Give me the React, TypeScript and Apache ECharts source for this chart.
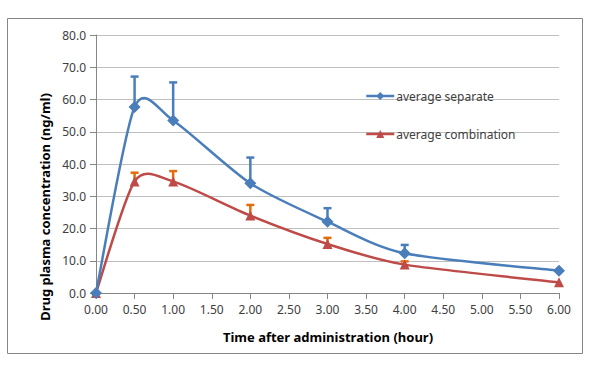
import React, { useEffect, useRef } from "react";
import * as echarts from "echarts";

const times = [0, 0.5, 1, 2, 3, 4, 6];
const separateMean = [0, 57.7, 53.5, 34.0, 22.1, 12.3, 6.9];
const separateUpper = [0, 67.1, 65.3, 42.0, 26.3, 14.9, 6.9];
const combinationMean = [0, 34.6, 34.6, 24.0, 15.2, 8.8, 3.3];
const combinationUpper = [0, 37.3, 37.8, 27.3, 17.1, 9.8, 3.3];
const seriesNames = ["average separate", "average combination"];
const xAxisTitle = "Time after administration (hour)";
const yAxisTitle = "Drug plasma concentration (ng/ml)";

const BLUE = "#4a7ebb";
const RED = "#be4b48";
const ORANGE = "#e46c0a";
const FONT = "'Noto Sans', sans-serif";
const TENSION = 0.13;

function errorSeries(mean: number[], upper: number[], color: string) {
  const data = times.map((t, i) => [t, mean[i], upper[i]]);
  return {
    type: "custom",
    silent: true,
    z: 1,
    data,
    encode: { x: 0, y: [1, 2] },
    renderItem: (params: any, api: any) => {
      const x = api.value(0);
      const y = api.value(1);
      const u = api.value(2);
      if (u - y < 0.05) return null;
      const p0 = api.coord([x, y]);
      const p1 = api.coord([x, u]);
      return {
        type: "group",
        children: [
          {
            type: "line",
            shape: { x1: p0[0], y1: p0[1], x2: p1[0], y2: p1[1] },
            style: { stroke: color, lineWidth: 2.5 },
          },
          {
            type: "line",
            shape: { x1: p1[0] - 4, y1: p1[1], x2: p1[0] + 4, y2: p1[1] },
            style: { stroke: color, lineWidth: 2.5 },
          },
        ],
      };
    },
  };
}

// Excel-like smoothed curve (Catmull-Rom style Bezier through the data points)
function curveSeries(mean: number[], color: string, z: number) {
  const data = times.map((t, i) => [t, mean[i]]);
  return {
    type: "custom",
    silent: true,
    z,
    data,
    encode: { x: 0, y: 1 },
    clip: true,
    renderItem: (params: any, api: any) => {
      const i = params.dataIndex;
      const n = times.length;
      if (i >= n - 1) return null;
      const P = (k: number) => {
        const kk = Math.max(0, Math.min(n - 1, k));
        return api.coord([times[kk], mean[kk]]);
      };
      const p0 = P(i - 1);
      const p1 = P(i);
      const p2 = P(i + 1);
      const p3 = P(i + 2);
      return {
        type: "bezierCurve",
        shape: {
          x1: p1[0],
          y1: p1[1],
          cpx1: p1[0] + (p2[0] - p0[0]) * TENSION,
          cpy1: p1[1] + (p2[1] - p0[1]) * TENSION,
          cpx2: p2[0] - (p3[0] - p1[0]) * TENSION,
          cpy2: p2[1] - (p3[1] - p1[1]) * TENSION,
          x2: p2[0],
          y2: p2[1],
        },
        style: { stroke: color, lineWidth: 2.5, fill: "none" },
      };
    },
  };
}

export default function App() {
  const ref = useRef<HTMLDivElement>(null);
  useEffect(() => {
    const chart = echarts.init(ref.current!, null, { renderer: "svg" });
    chart.setOption({
      animation: false,
      backgroundColor: "#ffffff",
      grid: { left: 96, right: 34, top: 35, bottom: 75, containLabel: false },
      xAxis: {
        type: "value",
        min: 0,
        max: 6,
        interval: 0.5,
        axisLine: { lineStyle: { color: "#868686", width: 1 } },
        axisTick: { show: true, length: 6, lineStyle: { color: "#868686" } },
        splitLine: { show: false },
        axisLabel: {
          color: "#404040",
          fontSize: 12,
          fontFamily: FONT,
          margin: 10,
          formatter: (v: number) => v.toFixed(2),
        },
      },
      yAxis: {
        type: "value",
        min: 0,
        max: 80,
        interval: 10,
        axisLine: { show: true, lineStyle: { color: "#868686", width: 1 } },
        axisTick: { show: true, length: 6, lineStyle: { color: "#868686" } },
        splitLine: { show: true, lineStyle: { color: "#bfbfbf", width: 1 } },
        axisLabel: {
          color: "#404040",
          fontSize: 12,
          fontFamily: FONT,
          margin: 10,
          formatter: (v: number) => v.toFixed(1),
        },
      },
      legend: {
        orient: "vertical",
        left: 365,
        top: 90,
        padding: 0,
        itemGap: 26,
        itemWidth: 28,
        itemHeight: 10,
        textStyle: { color: "#404040", fontSize: 12, fontFamily: FONT, padding: [0, 0, 0, -3] },
        data: [
          { name: seriesNames[0], lineStyle: { opacity: 1, color: BLUE, width: 2.5 } },
          { name: seriesNames[1], lineStyle: { opacity: 1, color: RED, width: 2.5 } },
        ],
      },
      graphic: [
        {
          type: "rect",
          shape: { x: 7.5, y: 18.5, width: 575, height: 335 },
          style: { fill: "none", stroke: "#868686", lineWidth: 1 },
          silent: true,
          z: -10,
        },
        {
          type: "text",
          x: 45,
          y: 207,
          rotation: Math.PI / 2,
          style: {
            text: yAxisTitle,
            fill: "#000000",
            font: `bold 13px ${FONT}`,
            textAlign: "center",
            textVerticalAlign: "middle",
          },
        },
        {
          type: "text",
          x: 328,
          y: 337,
          style: {
            text: xAxisTitle,
            fill: "#000000",
            font: `bold 13px ${FONT}`,
            textAlign: "center",
            textVerticalAlign: "middle",
          },
        },
      ],
      series: [
        errorSeries(separateMean, separateUpper, BLUE),
        errorSeries(combinationMean, combinationUpper, ORANGE),
        curveSeries(combinationMean, RED, 2),
        curveSeries(separateMean, BLUE, 3),
        {
          name: seriesNames[0],
          type: "line",
          z: 5,
          data: times.map((t, i) => [t, separateMean[i]]),
          symbol: "diamond",
          symbolSize: 12,
          lineStyle: { color: BLUE, width: 2.5, opacity: 0 },
          itemStyle: { color: BLUE },
        },
        {
          name: seriesNames[1],
          type: "line",
          z: 4,
          data: times.map((t, i) => [t, combinationMean[i]]),
          symbol: "triangle",
          symbolSize: 10,
          lineStyle: { color: RED, width: 2.5, opacity: 0 },
          itemStyle: { color: RED },
        },
      ],
    });
    return () => chart.dispose();
  }, []);
  return <div ref={ref} style={{ width: 593, height: 368, position: "absolute", left: 0, top: 0 }} />;
}
